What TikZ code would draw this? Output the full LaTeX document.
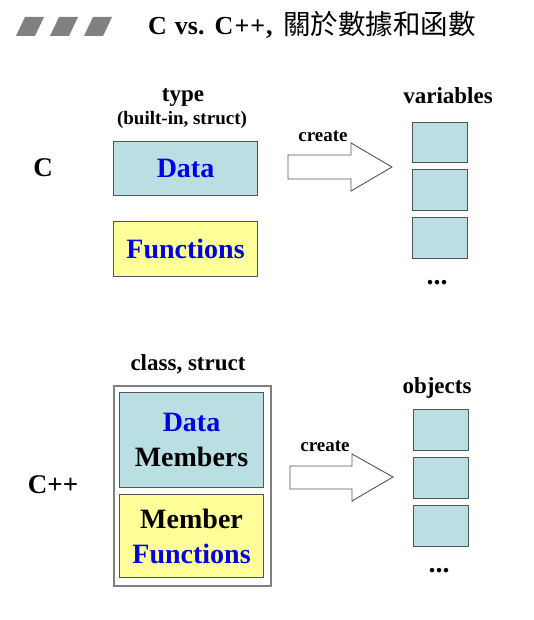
\documentclass[tikz,border=0pt]{standalone}
\usepackage{fontspec}
\setmainfont{Liberation Serif}
\newfontfamily\cjk{Noto Sans CJK TC}
\definecolor{lblue}{RGB}{186,223,227}
\definecolor{lyellow}{RGB}{255,255,153}
\definecolor{bordergray}{RGB}{85,85,85}
\definecolor{txtblue}{RGB}{0,0,225}
\definecolor{deco}{RGB}{128,128,128}
\begin{document}
\begin{tikzpicture}[x=1pt,y=-1pt,
  box/.style={draw=bordergray,line width=1.1pt,inner sep=0pt,anchor=north west},
  bluebox/.style={box,fill=lblue},
  yelbox/.style={box,fill=lyellow},
  big/.style={font=\fontsize{28}{35}\selectfont\bfseries,align=center},
  lbl/.style={font=\fontsize{23}{27}\selectfont\bfseries,anchor=base,inner sep=0pt},
  small/.style={font=\fontsize{19}{22}\selectfont\bfseries,anchor=base,inner sep=0pt},
  dotsstyle/.style={font=\fontsize{28}{30}\selectfont\bfseries,anchor=base,inner sep=0pt},
  blockarrow/.style={draw=bordergray,fill=white,line width=0.9pt,line join=miter}
]
\useasboundingbox (0,0) rectangle (534,620);
\fill[white] (0,0) rectangle (534,620);

% title decoration
\foreach \i in {0,1,2}{
  \fill[deco] ({16+34*\i},36) -- ({35+34*\i},36) -- ({44+34*\i},17) -- ({25+34*\i},17) -- cycle;
}
\node[anchor=base west,inner sep=0pt] (title) at (148,35)
  {\fontsize{26}{30}\selectfont\bfseries\spaceskip=8pt C vs. C{\kern1pt+\kern1pt+\kern1pt},};
\node[anchor=base west,inner sep=0pt] (titlecjk) at (283,35)
  {\cjk\fontsize{27.5}{30}\selectfont 關於數據和函數};

% ---- C part ----
\node[lbl] (type) at (183,102) {type};
\node[small] (builtin) at (182,125) {(built-in, struct)};
\node[bluebox,minimum width=144pt,minimum height=54pt] (data) at (113,141) {};
\node[big,text=txtblue] at (data.center) {Data};
\node[yelbox,minimum width=144pt,minimum height=55pt] (func) at (113,221) {};
\node[big,text=txtblue] at (func.center) {Functions};
\node[font=\fontsize{27}{30}\selectfont\bfseries,anchor=base,inner sep=0pt] (clbl) at (43,177) {C};

\node[small] (create1) at (323,142) {create};
\draw[blockarrow] (288,155) -- (351,155) -- (351,143) -- (392,167) -- (351,191) -- (351,179) -- (288,179) -- cycle;

\node[lbl] (vars) at (448,104) {variables};
\node[bluebox,minimum width=55pt,minimum height=40pt] (v1) at (412,122) {};
\node[bluebox,minimum width=55pt,minimum height=41pt] (v2) at (412,169) {};
\node[bluebox,minimum width=55pt,minimum height=41pt] (v3) at (412,217) {};
\node[dotsstyle] (vdots) at (437,284) {...};

% ---- C++ part ----
\node[lbl] (cls) at (188,370) {class, struct};
\node[box,draw=deco,line width=1.5pt,fill=white,minimum width=157pt,minimum height=200pt] (outer) at (113,385) {};
\node[bluebox,minimum width=144pt,minimum height=95pt] (dm) at (119,392) {};
\node[big] at (dm.center) {\textcolor{txtblue}{Data}\\Members};
\node[yelbox,minimum width=144pt,minimum height=83pt] (mf) at (119,494) {};
\node[big] at (mf.center) {Member\\\textcolor{txtblue}{Functions}};
\node[font=\fontsize{27}{30}\selectfont\bfseries,anchor=base,inner sep=0pt] (cpplbl) at (53,493) {C++};

\node[small] (create2) at (325,451) {create};
\draw[blockarrow] (290,466) -- (352,466) -- (352,454) -- (393,477) -- (352,501) -- (352,489) -- (290,489) -- cycle;

\node[lbl] (objs) at (437,393) {objects};
\node[bluebox,minimum width=55pt,minimum height=41pt] (o1) at (413,409) {};
\node[bluebox,minimum width=55pt,minimum height=41pt] (o2) at (413,457) {};
\node[bluebox,minimum width=55pt,minimum height=41pt] (o3) at (413,505) {};
\node[dotsstyle] (odots) at (439,572) {...};
\end{tikzpicture}
\end{document}
